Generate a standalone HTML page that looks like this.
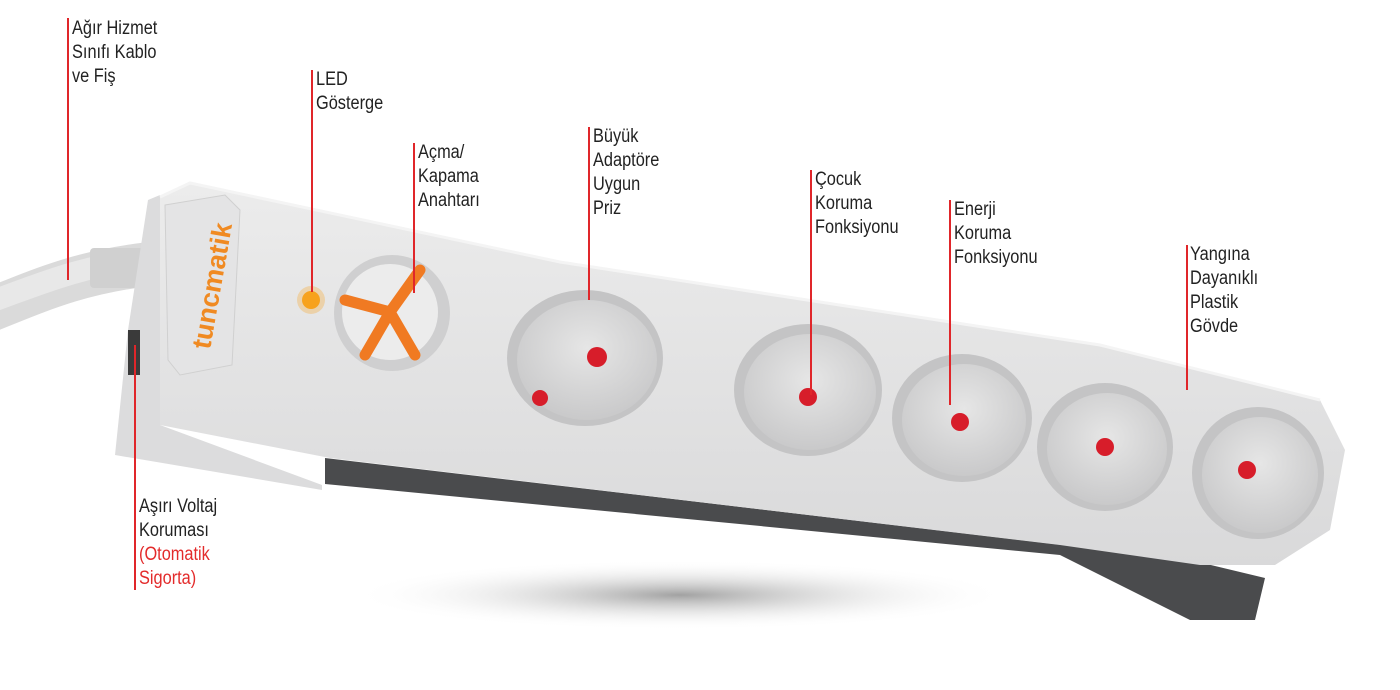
<!DOCTYPE html>
<html><head><meta charset="utf-8"><style>
html,body{margin:0;padding:0;background:#fff;}
.w{position:relative;width:1400px;height:690px;overflow:hidden;background:#fff;}
.l{position:absolute;font-family:"Liberation Sans Narrow","Liberation Sans",sans-serif;font-size:19px;line-height:24px;color:#222;transform-origin:0 0;transform:scaleX(0.86);white-space:nowrap;}
.r{color:#e32b2b;}
.v{position:absolute;width:1.5px;background:#e0262a;}
svg{position:absolute;left:0;top:0;}
</style></head><body><div class="w">
<svg width="1400" height="690" viewBox="0 0 1400 690">
<defs>
<radialGradient id="sh" cx="50%" cy="50%" r="50%"><stop offset="0" stop-color="#555" stop-opacity=".55"/><stop offset="1" stop-color="#fff" stop-opacity="0"/></radialGradient>
<linearGradient id="top" x1="0" y1="0" x2="0" y2="1"><stop offset="0" stop-color="#ececec"/><stop offset="1" stop-color="#d9d9da"/></linearGradient>
<radialGradient id="sock" cx="50%" cy="40%" r="60%"><stop offset="0" stop-color="#e6e6e6"/><stop offset="1" stop-color="#c9c9ca"/></radialGradient>
</defs>
<ellipse cx="680" cy="595" rx="330" ry="35" fill="url(#sh)"/>
<!-- cable -->
<path d="M-10 310 C40 290 80 272 150 264" stroke="#dadada" stroke-width="44" fill="none"/>
<path d="M-10 302 C40 284 80 266 150 258" stroke="#e8e8e8" stroke-width="22" fill="none"/>
<rect x="90" y="248" width="60" height="40" fill="#d0d0d0" rx="4"/>
<!-- dark base -->
<path d="M325 458 L1190 560 L1265 578 L1255 620 L1190 620 L1060 555 L325 484 Z" fill="#4a4b4d"/>
<!-- front left face -->
<path d="M148 200 L160 195 L160 425 L322 485 L322 490 L115 455 L128 330 Z" fill="#dcdcdd"/>
<rect x="128" y="330" width="12" height="45" fill="#3a3a3a"/>
<!-- top face -->
<path d="M160 197 L190 183 L560 262 L1100 345 L1260 385 L1320 400 L1345 450 L1330 530 L1275 565 L1200 565 L1060 545 L330 458 L160 425 Z" fill="url(#top)"/>
<path d="M160 197 L190 183 L560 262 L1100 345 L1260 385 L1320 400" stroke="#f4f4f4" stroke-width="3" fill="none"/>
<!-- logo panel -->
<path d="M165 205 L225 195 L240 210 L232 365 L180 375 L168 360 Z" fill="#e4e4e5" stroke="#d0d0d0"/>
<text x="210" y="350" transform="rotate(-80 210 350)" font-family="Liberation Sans,sans-serif" font-size="27" font-weight="bold" fill="#f08a22">tuncmatik</text>
<!-- LED -->
<circle cx="311" cy="300" r="9" fill="#f7a21d"/><circle cx="311" cy="300" r="14" fill="#f7a21d" opacity=".3"/>
<!-- switch -->
<circle cx="392" cy="313" r="58" fill="#cfcfd0"/>
<circle cx="390" cy="312" r="48" fill="#ececec"/>
<path d="M390 312 L345 300 M390 312 L420 270 M390 312 L415 355 M390 312 L365 355" stroke="#f07a22" stroke-width="11" stroke-linecap="round"/>
<!-- sockets -->
<g>
<ellipse cx="585" cy="358" rx="78" ry="68" fill="#c4c4c5"/><ellipse cx="587" cy="360" rx="70" ry="60" fill="url(#sock)"/><circle cx="597" cy="357" r="10" fill="#d71d2a"/>
<ellipse cx="808" cy="390" rx="74" ry="66" fill="#c4c4c5"/><ellipse cx="810" cy="392" rx="66" ry="58" fill="url(#sock)"/><circle cx="808" cy="397" r="9" fill="#d71d2a"/>
<ellipse cx="962" cy="418" rx="70" ry="64" fill="#c4c4c5"/><ellipse cx="964" cy="420" rx="62" ry="56" fill="url(#sock)"/><circle cx="960" cy="422" r="9" fill="#d71d2a"/>
<ellipse cx="1105" cy="447" rx="68" ry="64" fill="#c4c4c5"/><ellipse cx="1107" cy="449" rx="60" ry="56" fill="url(#sock)"/><circle cx="1105" cy="447" r="9" fill="#d71d2a"/>
<ellipse cx="1258" cy="473" rx="66" ry="66" fill="#c4c4c5"/><ellipse cx="1260" cy="475" rx="58" ry="58" fill="url(#sock)"/><circle cx="1247" cy="470" r="9" fill="#d71d2a"/>
<circle cx="540" cy="398" r="8" fill="#d71d2a"/>
</g>
</svg>
<div class="v" style="left:67px;top:18px;height:262px"></div>
<div class="v" style="left:311px;top:70px;height:222px"></div>
<div class="v" style="left:413px;top:143px;height:150px"></div>
<div class="v" style="left:588px;top:127px;height:173px"></div>
<div class="v" style="left:810px;top:170px;height:225px"></div>
<div class="v" style="left:949px;top:200px;height:205px"></div>
<div class="v" style="left:1186px;top:245px;height:145px"></div>
<div class="v" style="left:134px;top:345px;height:245px"></div>
<div class="l" style="left:72px;top:17px">Ağır Hizmet<br>Sınıfı Kablo<br>ve Fiş</div>
<div class="l" style="left:316px;top:68px">LED<br>Gösterge</div>
<div class="l" style="left:418px;top:141px">Açma/<br>Kapama<br>Anahtarı</div>
<div class="l" style="left:593px;top:125px">Büyük<br>Adaptöre<br>Uygun<br>Priz</div>
<div class="l" style="left:815px;top:168px">Çocuk<br>Koruma<br>Fonksiyonu</div>
<div class="l" style="left:954px;top:198px">Enerji<br>Koruma<br>Fonksiyonu</div>
<div class="l" style="left:1190px;top:243px">Yangına<br>Dayanıklı<br>Plastik<br>Gövde</div>
<div class="l" style="left:139px;top:495px">Aşırı Voltaj<br>Koruması<br><span class="r">(Otomatik<br>Sigorta)</span></div>
</div></body></html>
